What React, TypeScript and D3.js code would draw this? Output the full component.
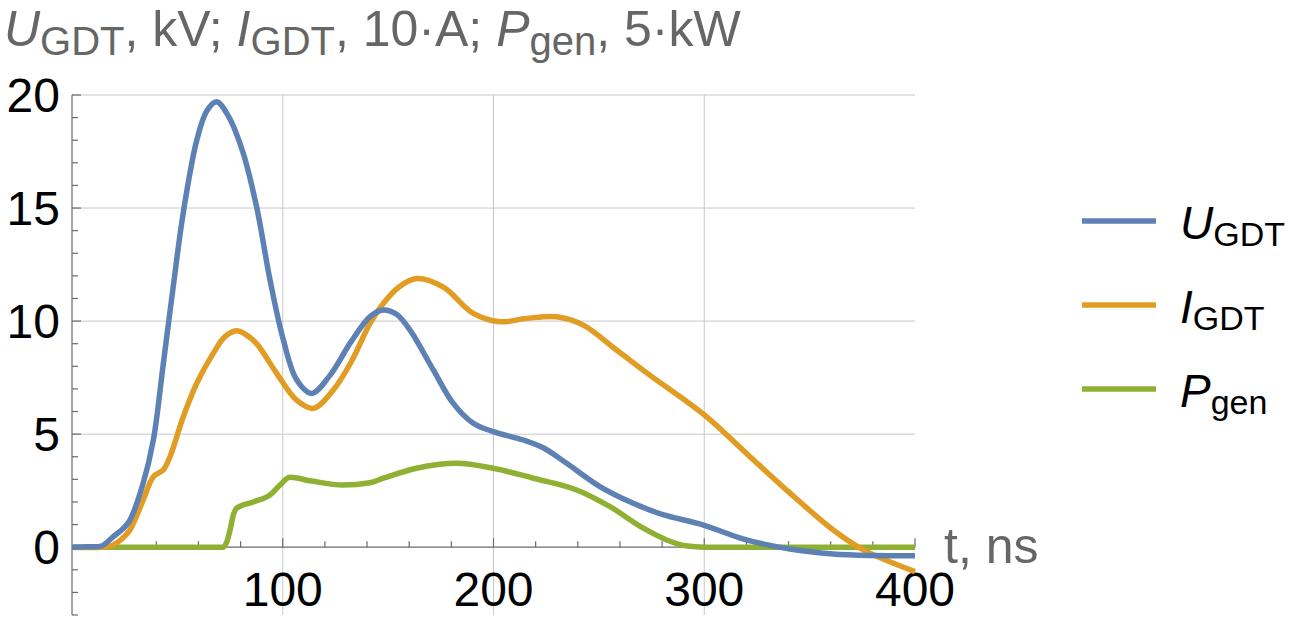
import * as d3 from 'd3';
import React, {useRef, useEffect} from 'react';

// t in ns, values in plot units (kV, 10·A, 5·kW)
const uPoints: [number, number][] = [
  [0, 0], [8, 0.02], [14, 0.05], [19.6, 0.47], [24, 0.8], [27.5, 1.2], [33.8, 2.84], [38.6, 4.74],
  [43.3, 8.1], [48, 11.5], [52.8, 14.8], [59.2, 18.0], [64, 19.3], [68.6, 19.7], [74, 19.1],
  [81, 17.5], [87.6, 15.05], [94, 11.8], [100.3, 9.16], [106.6, 7.4], [113.7, 6.8],
  [122.4, 7.6], [132.5, 9.1], [141.4, 10.2], [147.7, 10.49], [154, 10.3], [160.4, 9.6], [171.5, 7.83],
  [180.9, 6.36], [190.4, 5.48], [199.9, 5.11], [214.1, 4.74], [223.6, 4.4], [234.7, 3.71],
  [250.5, 2.68], [266.3, 1.94], [280, 1.45], [299.6, 0.98], [320, 0.32], [340.7, -0.08],
  [361, -0.3], [380, -0.37], [400, -0.38],
];

const iPoints: [number, number][] = [
  [0, 0], [14, 0], [19.6, 0.1], [23.5, 0.35], [27.5, 0.76], [33.8, 2.09], [38.6, 3.12], [43.3, 3.42],
  [46.5, 4.0], [52.8, 5.77], [59.2, 7.25], [67, 8.57], [72.5, 9.3], [78.1, 9.57], [82.5, 9.4], [87.6, 9.0],
  [97.1, 7.69], [106.6, 6.5], [114.5, 6.14], [124, 6.95], [132.5, 8.2], [141.4, 9.9], [147.7, 10.78],
  [155, 11.5], [163.5, 11.88], [176.2, 11.5], [190.4, 10.34], [203, 9.97], [215.8, 10.12], [230, 10.19],
  [242.6, 9.82], [258.4, 8.72], [274.3, 7.6], [299.6, 5.88], [321.7, 4.0], [340.7, 2.39],
  [361.2, 0.76], [375.5, -0.12], [400, -1.08],
];

const pPoints: [number, number][] = [
  [0, 0], [40, 0], [65, 0], [71.8, 0], [73.5, 0.25], [75, 0.76], [76.5, 1.4], [78.1, 1.72], [86, 2.0], [94, 2.31],
  [98.7, 2.75], [103.4, 3.09], [112.9, 2.94], [128.7, 2.75], [141.4, 2.85], [147.7, 3.05],
  [163.5, 3.49], [182.5, 3.71], [199.9, 3.49], [218.9, 3.05], [239.5, 2.53], [255.3, 1.79],
  [271.1, 0.84], [282.2, 0.32], [292, 0.05], [300, 0], [340, 0], [400, 0],
];

const series = [
  {name: 'U', sub: 'GDT', color: '#5E81B5', data: uPoints},
  {name: 'I', sub: 'GDT', color: '#E19C24', data: iPoints},
  {name: 'P', sub: 'gen', color: '#8FB032', data: pPoints},
];

const xMajor = [100, 200, 300, 400];
const yMajor = [0, 5, 10, 15, 20];

export default function App() {
  const ref = useRef<SVGSVGElement>(null);

  const W = 1294, H = 622;
  const left = 72, right = 915, top = 95, bottom = 615;

  useEffect(() => {
    const svg = d3.select(ref.current);
    svg.selectAll('*').remove();

    const x = d3.scaleLinear().domain([0, 400]).range([left, right]);
    const y = d3.scaleLinear().domain([-3, 20]).range([bottom, top]);
    const font = '"Liberation Sans", Arial, sans-serif';

    // grid
    svg.append('g')
      .selectAll('line')
      .data(xMajor.filter(d => d < 400))
      .join('line')
      .attr('x1', d => x(d)).attr('x2', d => x(d))
      .attr('y1', top).attr('y2', bottom)
      .attr('stroke', '#c8c8c8').attr('stroke-width', 1);
    svg.append('g')
      .selectAll('line')
      .data(yMajor.filter(d => d > 0))
      .join('line')
      .attr('x1', left).attr('x2', right)
      .attr('y1', d => y(d)).attr('y2', d => y(d))
      .attr('stroke', '#c8c8c8').attr('stroke-width', 1);

    // axes
    const axisColor = '#6b6b6b';
    svg.append('line')
      .attr('x1', left).attr('x2', left).attr('y1', top).attr('y2', bottom)
      .attr('stroke', axisColor).attr('stroke-width', 1.2);
    svg.append('line')
      .attr('x1', left).attr('x2', right).attr('y1', y(0)).attr('y2', y(0))
      .attr('stroke', axisColor).attr('stroke-width', 1.2);

    const yTicks = d3.range(-3, 21, 1);
    svg.append('g')
      .selectAll('line')
      .data(yTicks)
      .join('line')
      .attr('x1', left).attr('x2', d => left + (d % 5 === 0 ? 9 : 6))
      .attr('y1', d => y(d)).attr('y2', d => y(d))
      .attr('stroke', axisColor).attr('stroke-width', 1.2);
    const xTicks = d3.range(20, 401, 20);
    svg.append('g')
      .selectAll('line')
      .data(xTicks)
      .join('line')
      .attr('x1', d => x(d)).attr('x2', d => x(d))
      .attr('y1', y(0)).attr('y2', d => y(0) - (d % 100 === 0 ? 9 : 6))
      .attr('stroke', axisColor).attr('stroke-width', 1.2);

    // tick labels
    svg.append('g')
      .selectAll('text')
      .data(yMajor)
      .join('text')
      .attr('x', 60).attr('y', d => y(d))
      .attr('dy', '0.36em')
      .attr('text-anchor', 'end')
      .attr('font-family', font).attr('font-size', 48)
      .text(d => d);
    svg.append('g')
      .selectAll('text')
      .data(xMajor)
      .join('text')
      .attr('x', d => x(d)).attr('y', 606)
      .attr('text-anchor', 'middle')
      .attr('font-family', font).attr('font-size', 48)
      .text(d => d);

    // axis label
    svg.append('text')
      .attr('x', 944).attr('y', 563)
      .attr('font-family', font).attr('font-size', 50)
      .attr('fill', '#666')
      .text('t, ns');

    // lines
    const smooth = d3.line<[number, number]>()
      .x(d => x(d[0]))
      .y(d => y(d[1]))
      .curve(d3.curveCatmullRom.alpha(0.5));
    const mono = d3.line<[number, number]>()
      .x(d => x(d[0]))
      .y(d => y(d[1]))
      .curve(d3.curveMonotoneX);

    const g = svg.append('g');
    [...series].reverse().forEach(s => {
      g.append('path')
        .attr('d', (s.name === 'P' ? mono : smooth)(s.data))
        .attr('fill', 'none')
        .attr('stroke', s.color)
        .attr('stroke-width', 5.5)
        .attr('stroke-linejoin', 'round');
    });

    // title
    const title = svg.append('text')
      .attr('x', 4).attr('y', 46)
      .attr('font-family', font).attr('font-size', 50)
      .attr('fill', '#666');
    const parts: [string, string, string][] = [
      ['U', 'GDT', ', kV; '],
      ['I', 'GDT', ', 10·A; '],
      ['P', 'gen', ', 5·kW'],
    ];
    parts.forEach(([v, sub, rest]) => {
      title.append('tspan').attr('font-style', 'italic').text(v);
      title.append('tspan').attr('font-size', 40).attr('dy', 9).text(sub);
      title.append('tspan').attr('dy', -9).text(rest);
    });

    // legend
    series.forEach((s, i) => {
      const ly = 221 + i * 84;
      svg.append('line')
        .attr('x1', 1082).attr('x2', 1156)
        .attr('y1', ly).attr('y2', ly)
        .attr('stroke', s.color).attr('stroke-width', 5.5);
      const t = svg.append('text')
        .attr('x', 1180).attr('y', ly + 18)
        .attr('font-family', font).attr('font-size', 46)
        .attr('fill', '#000');
      t.append('tspan').attr('font-style', 'italic').text(s.name);
      t.append('tspan').attr('font-size', 34).attr('dy', 7).text(s.sub);
    });
  }, []);

  return (
    <svg ref={ref} width={W} height={H}
         style={{position: 'absolute', left: 0, top: 0, background: '#fff'}}>
    </svg>
  );
}
